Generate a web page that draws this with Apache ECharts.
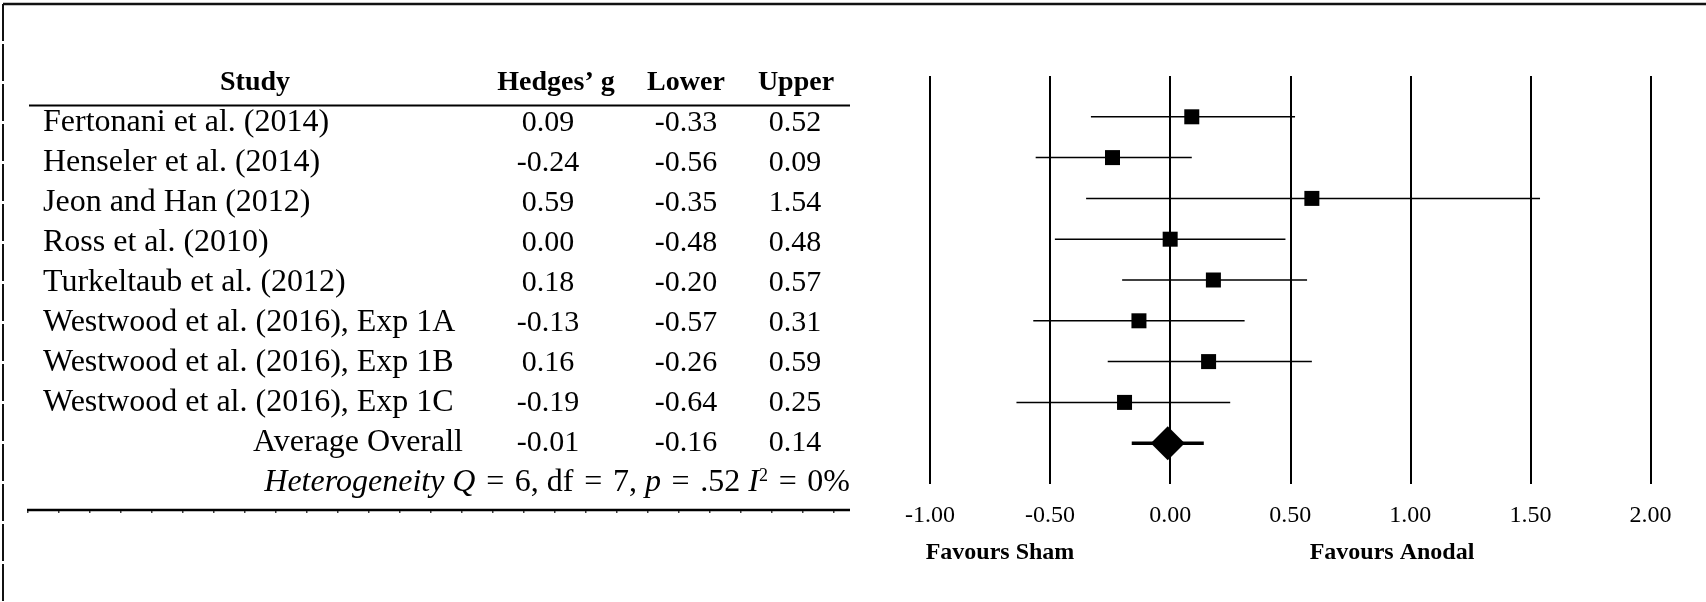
<!DOCTYPE html>
<html>
<head>
<meta charset="utf-8">
<title>Forest plot – Hedges' g</title>
<script src="https://cdn.jsdelivr.net/npm/echarts/dist/echarts.min.js"></script>
<style>
  html, body { margin: 0; padding: 0; background: #fff; }
  #chart { width: 1706px; height: 602px; }
</style>
</head>
<body>
<div id="chart"></div>
<script>
// Study rows
const studies = [
  'Fertonani et al. (2014)',
  'Henseler et al. (2014)',
  'Jeon and Han (2012)',
  'Ross et al. (2010)',
  'Turkeltaub et al. (2012)',
  'Westwood et al. (2016), Exp 1A',
  'Westwood et al. (2016), Exp 1B',
  'Westwood et al. (2016), Exp 1C'
];
const hedgesG = [0.09, -0.24, 0.59, 0.00, 0.18, -0.13, 0.16, -0.19];
const lowerCI = [-0.33, -0.56, -0.35, -0.48, -0.20, -0.57, -0.26, -0.64];
const upperCI = [0.52, 0.09, 1.54, 0.48, 0.57, 0.31, 0.59, 0.25];

// Pooled estimate
const overallLabel = 'Average Overall';
const overallG = -0.01;
const overallLower = -0.16;
const overallUpper = 0.14;

// Column headers and axis
const headers = ['Study', 'Hedges\u2019 g', 'Lower', 'Upper'];
const xTicks = [-1.0, -0.5, 0.0, 0.5, 1.0, 1.5, 2.0];
const favourLeft = 'Favours Sham';
const favourRight = 'Favours Anodal';

const SERIF = '"Liberation Serif", "Times New Roman", serif';
const fmt = v => v.toFixed(2);

// Table layout
const rowY0 = 123, rowStep = 40;
const nameX = 43, nameRightX = 463;
const headX = [255, 556, 686, 796];
const colX = [255, 548, 686, 795];
const nameSize = 32;
const numSize = 30;

const graphics = [];
headers.forEach((h, j) => {
  graphics.push({
    type: 'text', x: headX[j], y: 83,
    style: { text: h, fontFamily: SERIF, fontWeight: 'bold', fontSize: 28,
             fill: '#000', align: 'center', verticalAlign: 'middle' }
  });
});
// header rule
graphics.push({ type: 'line', shape: { x1: 29, y1: 105.5, x2: 850, y2: 105.5 },
  style: { stroke: '#000', lineWidth: 2 } });

function rowText(text, x, y, align, size) {
  graphics.push({
    type: 'text', x: x, y: y,
    style: { text: text, fontFamily: SERIF, fontSize: size, fill: '#000',
             align: align, verticalAlign: 'middle' }
  });
}
studies.forEach((s, i) => {
  const y = rowY0 + i * rowStep;
  rowText(s, nameX, y, 'left', nameSize);
  rowText(fmt(hedgesG[i]), colX[1], y, 'center', numSize);
  rowText(fmt(lowerCI[i]), colX[2], y, 'center', numSize);
  rowText(fmt(upperCI[i]), colX[3], y, 'center', numSize);
});
const yAvg = rowY0 + studies.length * rowStep;
rowText(overallLabel, nameRightX, yAvg, 'right', nameSize);
rowText(fmt(overallG), colX[1], yAvg, 'center', numSize);
rowText(fmt(overallLower), colX[2], yAvg, 'center', numSize);
rowText(fmt(overallUpper), colX[3], yAvg, 'center', numSize);

// heterogeneity line (math-style spacing around the equals signs)
const sp = '\u2004';
graphics.push({
  type: 'text', x: 850, y: yAvg + rowStep,
  style: {
    text: '{it|Heterogeneity Q}' + sp + '=' + sp + '6, df' + sp + '=' + sp + '7, {it|p}' + sp + '=' + sp +
          '.52 {it|I}{sup|2}' + sp + '=' + sp + '0%',
    fontFamily: SERIF, fontSize: nameSize, fill: '#000',
    align: 'right', verticalAlign: 'middle',
    rich: {
      it: { fontFamily: SERIF, fontSize: nameSize, fontStyle: 'italic', fill: '#000' },
      sup: { fontFamily: SERIF, fontSize: 18, fill: '#000', padding: [0, 0, 14, 0] }
    }
  }
});
// closing rule of the table
graphics.push({ type: 'line', shape: { x1: 27, y1: 510, x2: 850, y2: 510 },
  style: { stroke: '#000', lineWidth: 2.5 } });
graphics.push({ type: 'line', shape: { x1: 27, y1: 512, x2: 850, y2: 512 },
  style: { stroke: '#000', lineWidth: 1.5, lineDash: [1.5, 29.5] } });

// frame
graphics.push({ type: 'line', shape: { x1: 3, y1: 4, x2: 1706, y2: 4 },
  style: { stroke: '#111', lineWidth: 2.5 } });
graphics.push({ type: 'line', shape: { x1: 3, y1: 4, x2: 3, y2: 602 },
  style: { stroke: '#111', lineWidth: 2, lineDash: [37, 3] } });

// favour captions
graphics.push({ type: 'text', x: 1000, y: 553,
  style: { text: favourLeft, fontFamily: SERIF, fontWeight: 'bold', fontSize: 24,
           fill: '#000', align: 'center', verticalAlign: 'middle' } });
graphics.push({ type: 'text', x: 1392, y: 553,
  style: { text: favourRight, fontFamily: SERIF, fontWeight: 'bold', fontSize: 24,
           fill: '#000', align: 'center', verticalAlign: 'middle' } });

const chart = echarts.init(document.getElementById('chart'), null, { renderer: 'canvas' });

function ciRenderer(width) {
  return function (params, api) {
    const a = api.coord([api.value(0), api.value(2)]);
    const b = api.coord([api.value(1), api.value(2)]);
    return { type: 'line', shape: { x1: a[0], y1: a[1], x2: b[0], y2: b[1] },
             style: { stroke: '#000', lineWidth: width } };
  };
}

chart.setOption({
  backgroundColor: '#fff',
  animation: false,
  grid: { left: 930, right: 55.5, top: 76, bottom: 118, containLabel: false, outerBoundsMode: 'none' },
  xAxis: {
    type: 'value', min: xTicks[0], max: xTicks[xTicks.length - 1], interval: 0.5,
    axisLine: { show: false }, axisTick: { show: false },
    axisLabel: { formatter: v => fmt(v), fontFamily: SERIF, fontSize: 24, color: '#000', margin: 20 },
    splitLine: { show: true, lineStyle: { color: '#000', width: 2 } }
  },
  yAxis: {
    type: 'value', min: -1, max: 9, inverse: true, show: false,
    splitLine: { show: false }
  },
  series: [
    {
      type: 'custom', renderItem: ciRenderer(1.5),
      encode: { x: [0, 1], y: 2 },
      data: studies.map((s, i) => [lowerCI[i], upperCI[i], i]), z: 2
    },
    {
      type: 'scatter', symbol: 'rect', symbolSize: 15,
      itemStyle: { color: '#000', opacity: 1 },
      data: hedgesG.map((g, i) => [g, i]), z: 3
    },
    {
      type: 'custom', renderItem: ciRenderer(3.5),
      encode: { x: [0, 1], y: 2 },
      data: [[overallLower, overallUpper, studies.length]], z: 2
    },
    {
      type: 'scatter', symbol: 'diamond', symbolSize: [34, 34],
      itemStyle: { color: '#000', opacity: 1 },
      data: [[overallG, studies.length]], z: 3
    }
  ],
  graphic: { elements: graphics }
});
</script>
</body>
</html>
